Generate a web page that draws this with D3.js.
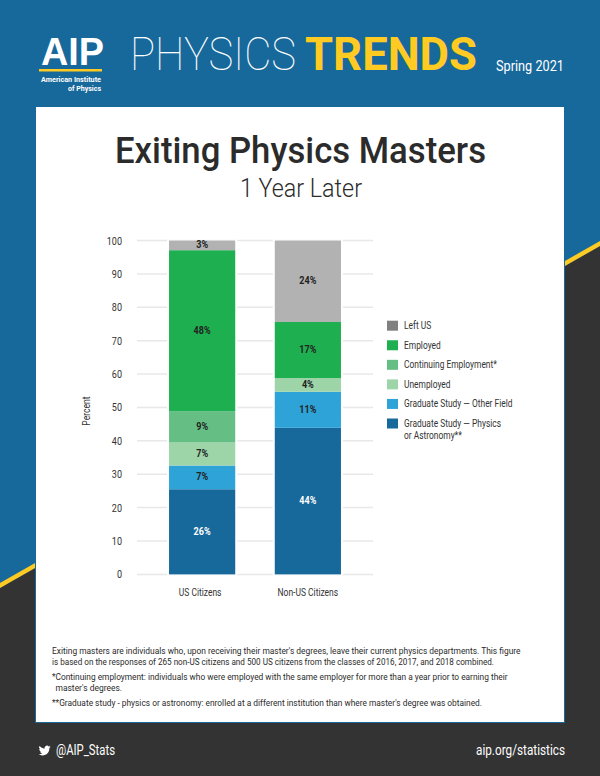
<!DOCTYPE html>
<html>
<head>
<meta charset="utf-8">
<script src="https://cdn.jsdelivr.net/npm/d3@7"></script>
<style>
  html, body { margin: 0; padding: 0; background: #333; }
  svg { display: block; }
  text { font-family: "Roboto", "Liberation Sans", sans-serif; }
</style>
</head>
<body>
<svg id="chart"></svg>
<script>
const categories = ['US Citizens', 'Non-US Citizens'];
const seriesNames = [
  'Graduate Study — Physics',
  'Graduate Study — Other Field',
  'Unemployed',
  'Continuing Employment*',
  'Employed',
  'Left US'
];
const usValues = [25.5, 7.1, 6.9, 9.4, 48.2, 2.9];
const nonUsValues = [43.9, 10.8, 4.1, 0, 16.8, 24.4];
const usLabels = ['26%', '7%', '7%', '9%', '48%', '3%'];
const nonUsLabels = ['44%', '11%', '4%', '', '17%', '24%'];
const barColors = ['#17689b', '#2ea3d8', '#9dd4a8', '#65bf85', '#1eb050', '#b2b2b2'];
const legendColors = ['#17689b', '#2ea3d8', '#9dd4a8', '#65bf85', '#1eb050', '#808080'];
const labelColors = ['#fff', '#222', '#222', '#222', '#222', '#222'];
const yTicks = [0, 10, 20, 30, 40, 50, 60, 70, 80, 90, 100];
const legendOrder = [5, 4, 3, 2, 1, 0];
const noteLines = [
  "Exiting masters are individuals who, upon receiving their master's degrees, leave their current physics departments. This figure",
  "is based on the responses of 265 non-US citizens and 500 US citizens from the classes of 2016, 2017, and 2018 combined.",
  "*Continuing employment: individuals who were employed with the same employer for more than a year prior to earning their",
  "master's degrees.",
  "**Graduate study - physics or astronomy: enrolled at a different institution than where master's degree was obtained."
];

const width = 600;
const height = 776;
const blue = '#17689b';
const yellow = '#ffcb22';
const dark = '#2b2b2b';

// squeeze Roboto to the narrow face of the original
function condense(sel, k) {
  sel.each(function () {
    d3.select(this)
      .attr('textLength', this.getComputedTextLength() * k)
      .attr('lengthAdjust', 'spacingAndGlyphs');
  });
  return sel;
}

function fit(sel, w) {
  return sel.attr('textLength', w).attr('lengthAdjust', 'spacingAndGlyphs');
}

const svg = d3.select('#chart')
  .attr('width', width)
  .attr('height', height);

// page background
svg.append('rect').attr('width', width).attr('height', height).attr('fill', blue);
svg.append('path')
  .attr('d', 'M0,588 L600,246 L600,776 L0,776 Z')
  .attr('fill', '#333333');
svg.append('path')
  .attr('d', 'M0,583 L600,241 L600,246 L0,588 Z')
  .attr('fill', yellow);

// white panel
svg.append('rect')
  .attr('x', 35.5).attr('y', 106.5)
  .attr('width', 529).attr('height', 616)
  .attr('fill', '#fff')
  .attr('stroke', blue);

// header
fit(svg.append('text').attr('x', 41).attr('y', 65)
  .attr('fill', '#fff').attr('font-size', 39).attr('font-weight', 700)
  .style('font-family', '"Liberation Sans", sans-serif').text('AIP'), 63);
svg.append('rect').attr('x', 39).attr('y', 69).attr('width', 63).attr('height', 2.5).attr('fill', yellow);
fit(svg.append('text').attr('x', 101).attr('y', 82)
  .attr('fill', '#fff').attr('font-size', 7.5).attr('font-weight', 700).attr('text-anchor', 'end').text('American Institute'), 60);
fit(svg.append('text').attr('x', 101).attr('y', 90.5)
  .attr('fill', '#fff').attr('font-size', 7.5).attr('font-weight', 700).attr('text-anchor', 'end').text('of Physics'), 33);
fit(svg.append('text').attr('x', 130).attr('y', 70)
  .attr('fill', '#fff').attr('font-size', 46).attr('font-weight', 100).text('PHYSICS'), 166);
fit(svg.append('text').attr('x', 305).attr('y', 70)
  .attr('fill', yellow).attr('font-size', 46).attr('font-weight', 700).text('TRENDS'), 172);
fit(svg.append('text').attr('x', 496).attr('y', 71)
  .attr('fill', '#fff').attr('font-size', 14).text('Spring 2021'), 68);

// titles
fit(svg.append('text').attr('x', 115).attr('y', 163)
  .attr('fill', dark).attr('font-size', 37).attr('font-weight', 500)
  .text('Exiting Physics Masters'), 371);
fit(svg.append('text').attr('x', 240).attr('y', 197)
  .attr('fill', dark).attr('font-size', 25).attr('font-weight', 300)
  .text('1 Year Later'), 122);

// chart
const xScale = d3.scaleBand()
  .domain(categories)
  .range([137, 373])
  .paddingInner(0.374)
  .paddingOuter(0.303);

const yScale = d3.scaleLinear()
  .domain([0, 100])
  .range([574.4, 240.5]);

const g = svg.append('g');

g.selectAll('.grid')
  .data(yTicks)
  .enter()
  .append('line')
  .attr('class', 'grid')
  .attr('x1', 137).attr('x2', 373)
  .attr('y1', d => yScale(d)).attr('y2', d => yScale(d))
  .attr('stroke', '#e8e8e8')
  .attr('stroke-width', 1.5);

const yAxis = g.append('g')
  .attr('transform', 'translate(124,0)')
  .call(d3.axisLeft(yScale).tickValues(yTicks).tickSize(0).tickPadding(2));
yAxis.select('.domain').remove();
condense(yAxis.selectAll('text').attr('font-size', 11).attr('fill', '#333'), 0.82);

const xAxis = g.append('g')
  .attr('transform', 'translate(0,588)')
  .call(d3.axisBottom(xScale).tickSize(0).tickPadding(0));
xAxis.select('.domain').remove();
condense(xAxis.selectAll('text').attr('font-size', 11).attr('fill', '#333')
  .attr('dx', (d, i) => i === 0 ? -2 : 0), 0.77);

condense(svg.append('text')
  .attr('transform', 'translate(90,411) rotate(-90)')
  .attr('text-anchor', 'middle')
  .attr('font-size', 11)
  .attr('fill', '#333')
  .text('Percent'), 0.78);

const rows = categories.map((c, i) => ({
  category: c,
  values: i === 0 ? usValues : nonUsValues,
  labels: i === 0 ? usLabels : nonUsLabels
}));

rows.forEach(row => {
  // gap between the gridlines and the bar
  g.append('rect')
    .attr('x', xScale(row.category) - 2)
    .attr('y', yScale(100) - 1)
    .attr('width', xScale.bandwidth() + 4)
    .attr('height', yScale(0) - yScale(100) + 2)
    .attr('fill', '#fff');

  let base = 0;
  row.values.forEach((v, i) => {
    if (v > 0) {
      g.append('rect')
        .attr('x', xScale(row.category))
        .attr('y', yScale(base + v))
        .attr('width', xScale.bandwidth())
        .attr('height', yScale(base) - yScale(base + v))
        .attr('fill', barColors[i]);
      condense(g.append('text')
        .attr('x', xScale(row.category) + xScale.bandwidth() / 2)
        .attr('y', yScale(base + v / 2) + 3)
        .attr('text-anchor', 'middle')
        .attr('font-size', 11)
        .attr('font-weight', 700)
        .attr('fill', labelColors[i])
        .text(row.labels[i]), 0.82);
    }
    base += v;
  });
});

// legend
const legendY = d3.scalePoint().domain(legendOrder).range([325.7, 423.5]);
const legend = g.selectAll('.legend')
  .data(legendOrder)
  .enter()
  .append('g')
  .attr('class', 'legend')
  .attr('transform', d => `translate(387,${legendY(d)})`);
legend.append('rect')
  .attr('y', -5)
  .attr('width', 11).attr('height', 10)
  .attr('fill', d => legendColors[d]);
condense(legend.append('text')
  .attr('x', 17).attr('y', 3.5)
  .attr('font-size', 10.5)
  .attr('fill', '#333')
  .text(d => seriesNames[d]), 0.8);
condense(svg.append('text').attr('x', 404).attr('y', 439)
  .attr('font-size', 10.5).attr('fill', '#333').text('or Astronomy**'), 0.8);

// notes
const noteX = [52, 52, 52, 55.5, 52];
const noteY = [654, 665, 680, 691, 706];
const noteW = [468.5, 442, 455.5, 66.5, 430];
svg.selectAll('.note')
  .data(noteLines)
  .enter()
  .append('text')
  .attr('class', 'note')
  .attr('x', (d, i) => noteX[i])
  .attr('y', (d, i) => noteY[i])
  .attr('textLength', (d, i) => noteW[i])
  .attr('lengthAdjust', 'spacingAndGlyphs')
  .attr('font-size', 9.5)
  .attr('fill', dark)
  .text(d => d);

// footer
svg.append('path')
  .attr('transform', 'translate(38.6,744.5) scale(0.5)')
  .attr('d', 'M23.95 4.57a10 10 0 0 1-2.82.77 4.96 4.96 0 0 0 2.16-2.72 9.9 9.9 0 0 1-3.12 1.18 4.92 4.92 0 0 0-8.38 4.48A13.98 13.98 0 0 1 1.64 3.16a4.92 4.92 0 0 0 1.52 6.57 4.9 4.9 0 0 1-2.23-.61v.06a4.92 4.92 0 0 0 3.95 4.82 5 5 0 0 1-2.21.08 4.94 4.94 0 0 0 4.6 3.42A9.87 9.87 0 0 1 0 19.54a14 14 0 0 0 7.56 2.21c9.05 0 14-7.5 14-13.98 0-.21 0-.42-.02-.63a9.94 9.94 0 0 0 2.46-2.55z')
  .attr('fill', '#fff');
fit(svg.append('text').attr('x', 56).attr('y', 755)
  .attr('fill', '#fff').attr('font-size', 14).text('@AIP_Stats'), 59);
fit(svg.append('text').attr('x', 476).attr('y', 755)
  .attr('fill', '#fff').attr('font-size', 15).text('aip.org/statistics'), 89);
</script>
</body>
</html>
